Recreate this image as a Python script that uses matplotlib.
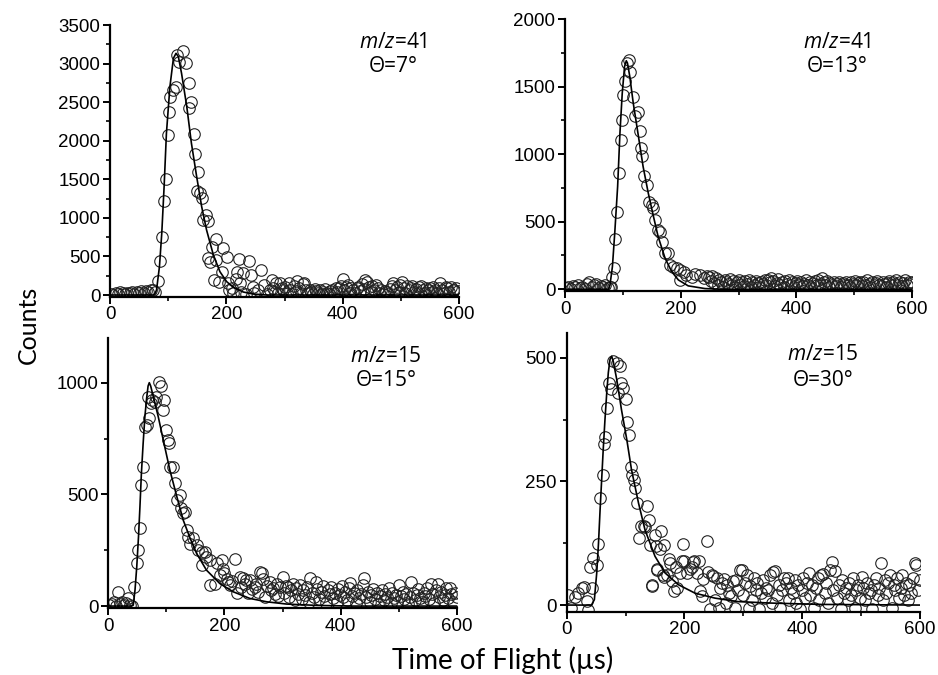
import matplotlib
matplotlib.use("Agg")
import matplotlib.pyplot as plt
from matplotlib.ticker import MultipleLocator

plt.rcParams['font.family'] = ['Liberation Sans', 'DejaVu Sans']
plt.rcParams['mathtext.fontset'] = 'custom'
plt.rcParams['mathtext.rm'] = 'Open Sans'
plt.rcParams['mathtext.it'] = 'Open Sans:italic'

# ---------------- Panel 1: m/z=41, Theta=7 deg ----------------
p1_t = [2, 6, 10, 14, 18, 22, 26, 30, 34, 38, 42, 46, 50, 54, 58, 62, 66, 70, 74, 78,
        83, 86, 89, 92, 96, 99, 101, 104, 109, 113, 115, 118, 125, 131, 135, 136, 140, 144,
        146, 149, 152, 155, 159, 160, 165, 168, 169, 172, 175, 178, 182, 183, 188, 192, 195,
        201, 203, 205, 209, 212, 216, 218, 221, 223, 226, 229, 233, 239, 242, 246, 248, 255,
        260, 264, 270, 275, 278,
        280, 283, 286, 289, 292, 295, 298, 301, 304, 307, 310, 313, 316, 319, 322, 325, 328,
        331, 334, 337, 340, 343, 346, 349, 352, 355, 358, 361, 364, 367, 370, 373, 376, 379,
        382, 385, 388, 391, 394, 397, 400, 403, 406, 409, 412, 415, 418, 421, 424, 427, 430,
        433, 436, 439, 442, 445, 448, 451, 454, 457, 460, 463, 466, 469, 472, 475, 478, 481,
        484, 487, 490, 493, 496, 499, 502, 505, 508, 511, 514, 517, 520, 523, 526, 529, 532,
        535, 538, 541, 544, 547, 550, 553, 556, 559, 562, 565, 568, 571, 574, 577, 580, 583,
        586, 589, 592, 595, 598]
p1_c = [10, 5, 20, 15, 40, 25, 10, 30, 20, 45, 15, 35, 25, 50, 30, 55, 40, 70, 60, 40,
        186, 445, 756, 1219, 1500, 2074, 2377, 2571, 2658, 2700, 3111, 3025, 3168, 3012, 2744,
        2420, 2506, 2087, 1828, 1353, 1599, 1318, 1253, 972, 1037, 964, 475, 432, 627, 194,
        454, 722, 173, 302, 605, 488, 151, 60, 86, 20, 203, 302, 462, 151, 40, 290, 10, 445,
        259, 99, 30, 60, 324, 130, 15, 70, 194,
        90, 40, 150, 20, 151, 86, 60, 110, 30, 160, 70, 15, 120, 55, 186, 90, 30,
        140, 160, 60, 20, 70, 40, 10, 80, 55, 25, 60, 15, 45, 75, 30, 10, 50,
        65, 20, 90, 40, 86, 120, 203, 60, 110, 130, 30, 90, 70, 20, 86, 110, 50,
        140, 80, 195, 173, 100, 40, 120, 60, 135, 90, 30, 70, 15, 50, 40, 10, 80,
        120, 151, 60, 110, 40, 130, 173, 90, 30, 112, 60, 90, 112, 40, 80, 20, 100,
        112, 60, 30, 90, 70, 86, 40, 110, 60, 20, 90, 151, 70, 30, 100, 86, 40,
        110, 60, 65, 90, 50]
p1_fit_t = [0, 60, 74, 77, 80, 85, 89, 93, 97, 103, 109, 113.5, 117.5, 123, 132, 140, 149,
            157.6, 166, 177.7, 189, 200.6, 212, 229, 246, 269, 600]
p1_fit_c = [0, 0, 0, 15, 65, 367, 800, 1400, 2096, 2700, 3068, 3133, 3090, 2874, 2442, 1966,
            1534, 1145, 843, 519, 302, 173, 99, 39, 13, 0, 0]

# ---------------- Panel 2: m/z=41, Theta=13 deg ----------------
p2_t = [2, 6, 10, 14, 18, 22, 26, 30, 34, 38, 42, 46, 50, 54, 58, 62, 66, 70, 74, 78,
        80, 81, 84, 86, 90, 93, 96, 99, 101, 104, 107, 111, 112, 117, 121, 126, 130, 131.5,
        134, 137, 141, 146, 150, 153, 156, 160, 164, 167, 173, 178, 182, 187, 193, 199, 199,
        205, 210, 219, 225, 233, 240, 246,
        249, 252, 255, 258, 261, 264, 267, 270, 273, 276, 279, 282, 285, 288, 291, 294, 297,
        300, 303, 306, 309, 312, 315, 318, 321, 324, 327, 330, 333, 336, 339, 342, 345, 348,
        351, 354, 357, 360, 363, 366, 369, 372, 375, 378, 381, 384, 387, 390, 393, 396, 399,
        402, 405, 408, 411, 414, 417, 420, 423, 426, 429, 432, 435, 438, 441, 444, 447, 450,
        453, 456, 459, 462, 465, 468, 471, 474, 477, 480, 483, 486, 489, 492, 495, 498, 501,
        504, 507, 510, 513, 516, 519, 522, 525, 528, 531, 534, 537, 540, 543, 546, 549, 552,
        555, 558, 561, 564, 567, 570, 573, 576, 579, 582, 585, 588, 591, 594, 597, 600]
p2_c = [10, 20, 5, 25, 15, 30, 10, 20, 5, 40, 57, 15, 30, 40, 10, 25, 20, 35, 10, 20,
        20, 89, 160, 370, 575, 860, 1106, 1254, 1440, 1543, 1674, 1699, 1605, 1422, 1279, 1309,
        1173, 1049, 988, 835, 773, 647, 625, 600, 514, 440, 427, 353, 267, 267, 180, 168, 156,
        143, 69, 131, 106, 94, 110, 106, 80, 95,
        90, 60, 100, 45, 80, 30, 70, 55, 20, 65, 57, 40, 75, 30, 60, 15, 50,
        70, 35, 55, 25, 60, 40, 70, 20, 50, 35, 60, 45, 15, 55, 40, 65, 30,
        70, 50, 82, 60, 25, 45, 75, 35, 55, 20, 60, 40, 70, 30, 50, 15, 45,
        60, 35, 55, 25, 40, 65, 30, 50, 20, 45, 60, 35, 70, 40, 82, 55, 30,
        60, 20, 45, 35, 55, 25, 40, 50, 15, 45, 30, 55, 35, 20, 50, 40, 60,
        30, 45, 55, 25, 50, 35, 65, 40, 20, 50, 30, 45, 60, 35, 25, 55, 40,
        15, 45, 60, 30, 50, 40, 70, 35, 55, 25, 45, 65, 30, 50, 40, 55]
p2_fit_t = [0, 75, 77.8, 82, 86, 91, 95, 99, 103, 106, 108, 112, 118, 127, 135, 144, 153,
            161, 173, 184.4, 196, 213, 242, 270, 600]
p2_fit_c = [0, 0, 32, 168, 415, 760, 1156, 1452, 1649, 1691, 1674, 1575, 1378, 1131, 909,
            711, 538, 390, 230, 131, 69, 25, 5, 0, 0]

# ---------------- Panel 3: m/z=15, Theta=15 deg ----------------
p3_t = [2, 6, 10, 14, 17, 20, 23, 27, 30, 34, 38, 41,
        45, 49, 52, 54.5, 57, 60, 63, 66, 69, 70.6, 73, 75, 80, 83, 88, 91, 94, 96, 99, 103,
        105, 106, 112, 115, 118, 123, 126, 129, 132, 136, 138, 141, 146, 152, 155, 161, 161,
        166, 169, 175, 175, 184, 186.6, 193, 195, 198, 200, 204, 207, 210, 213, 218, 221, 226,
        229, 232, 235, 238, 241, 244, 247, 252, 255, 258, 261, 264, 267, 270, 273, 278, 281,
        284, 287, 290, 293, 296, 300,
        303, 306, 309, 312, 315, 318, 321, 324, 327, 330, 333, 336, 339, 342, 345, 348, 351,
        354, 357, 360, 363, 366, 369, 372, 375, 378, 381, 384, 387, 390, 393, 396, 399, 402,
        405, 408, 411, 414, 417, 420, 423, 426, 429, 432, 435, 438, 441, 444, 447, 450, 453,
        456, 459, 462, 465, 468, 471, 474, 477, 480, 483, 486, 489, 492, 495, 498, 501, 504,
        507, 510, 513, 516, 519, 522, 525, 528, 531, 534, 537, 540, 543, 546, 549, 552, 555,
        558, 561, 564, 567, 570, 573, 576, 579, 582, 585, 588, 591, 594, 597, 600]
p3_c = [5, 9, 20, 0, 64, 10, 19, 5, 15, 34, 5, 0,
        87, 191, 250, 348, 542, 624, 803, 810, 937, 840, 907, 922, 915, 937, 1004, 985, 878,
        922, 788, 743, 728, 624, 624, 549, 475, 497, 437, 415, 420, 340, 310, 280, 303, 273,
        250, 243, 183, 243, 221, 206, 94, 101, 191, 139, 206, 168, 150, 120, 109, 95, 110, 212,
        57, 130, 85, 124, 100, 116, 60, 115, 75, 87, 100, 65, 154, 146, 120, 40, 90, 109, 70,
        79, 55, 100, 45, 85, 131,
        60, 90, 87, 40, 70, 100, 25, 80, 55, 95, 30, 70, 50, 85, 20, 124, 60,
        40, 109, 75, 30, 65, 90, 45, 15, 70, 55, 85, 35, 60, 20, 75, 50, 90,
        40, 65, 25, 80, 104, 45, 60, 15, 70, 35, 55, 94, 124, 40, 65, 20, 50,
        75, 30, 60, 10, 45, 70, 25, 55, 40, 80, 15, 60, 35, 50, 20, 94, 45,
        65, 30, 55, 10, 40, 109, 60, 25, 50, 75, 35, 20, 60, 45, 80, 30, 101,
        55, 15, 70, 101, 40, 65, 25, 50, 80, 35, 79, 55, 20, 60, 40]
p3_fit_t = [0, 40, 43, 46, 49, 52, 54.5, 57, 60, 63, 66, 68.5, 70.6, 73, 77.5, 86, 94.7, 106,
            118, 129, 141, 152, 169, 192, 215, 244, 273, 307, 359, 420, 600]
p3_fit_c = [0, 0, 4, 72, 176, 310, 445, 594, 728, 848, 930, 985, 1000, 985, 937, 848, 743,
            609, 490, 385, 303, 236, 161, 101, 64, 34, 19, 9, 3, 0, 0]

# ---------------- Panel 4: m/z=15, Theta=30 deg ----------------
p4_t = [3, 8, 14, 20, 25.5, 30, 34, 37, 39.6, 42.4, 45, 51, 54, 56.6, 61, 64, 65, 69, 72, 75,
        79, 85, 87.7, 90.6, 93, 96, 100, 102, 106, 109, 111.5, 115, 116, 120, 123, 127, 132,
        133, 136, 139, 141.5, 144.5, 145, 150, 151.7, 153, 154, 158, 160, 164, 165, 166, 170,
        173, 175, 178, 183, 185, 187, 193, 195, 198, 200, 204, 209, 212, 215, 217, 221, 225,
        226, 229, 232, 238,
        240, 243, 246, 249, 252, 255, 258, 261, 264, 267, 270, 273, 276, 279, 282, 285, 288,
        291, 294, 297, 300, 303, 306, 309, 312, 315, 318, 321, 324, 327, 330, 333, 336, 339,
        342, 345, 348, 351, 354, 357, 360, 363, 366, 369, 372, 375, 378, 381, 384, 387, 390,
        393, 396, 399, 402, 405, 408, 411, 414, 417, 420, 423, 426, 429, 432, 435, 438, 441,
        444, 447, 450, 453, 456, 459, 462, 465, 468, 471, 474, 477, 480, 483, 486, 489, 492,
        495, 498, 501, 504, 507, 510, 513, 516, 519, 522, 525, 528, 531, 534, 537, 540, 543,
        546, 549, 552, 555, 558, 561, 564, 567, 570, 573, 576, 579, 582, 585, 588, 591, 594,
        597, 600]
p4_c = [21, -5, 16, 24, 34, 36, 9, -9, 77, 34, 95, 82, 123, 217, 262, 325, 340, 398, 449,
        437, 493, 490, 429, 483, 449, 439, 416, 371, 344, 279, 262, 252, 237, 206, 136, 159,
        159, 158, 200, 171, 122, 40, 39, 142, 120, 70, 73, 113, 149, 61, 57, 121, 60, 94, 85,
        48, 28, 76, 34, 65, 90, 123, 90, 65, 73, 76, 87, 90, 65, 90, 28, 18, 52, 130,
        66, -8, 60, 58, 10, 55, -5, 34, 45, 53, 5, 40, 25, 18, 48, -6, 51,
        30, 71, 70, 20, 45, 60, -5, 38, 10, 55, 30, 45, -8, 25, 50, 15, 35,
        31, 60, 5, 67, 68, 20, 40, -5, 30, 55, 45, 55, 10, 35, 25, 50, 5,
        40, -7, 30, 55, 15, 45, 65, 20, 40, -6, 35, 55, 10, 60, 63, 25, 45,
        5, 70, 87, 30, 68, 15, 40, -8, 50, 25, 35, 10, 45, 20, 55, -5, 30,
        40, 15, 57, 35, 10, 45, 25, 31, -7, 40, 55, 20, 35, 85, 10, 50, 25,
        45, 60, -6, 40, 30, 55, 15, 35, 60, 20, 45, 10, 40, 25, 55, 85, 80,
        30, 51]
p4_fit_t = [0, 42, 47, 51, 54, 56.6, 59.4, 62, 65, 68, 70.7, 73.6, 76.4, 79, 85, 93, 102,
            110, 122, 133, 150, 167, 190, 218, 252, 291, 348, 433, 600]
p4_fit_c = [0, 0, 11, 65, 125, 190, 254, 314, 375, 429, 470, 497, 503, 493, 456, 395, 335,
            274, 206, 152, 98.5, 65, 41, 24, 14, 7, 4, 1.3, 0]

labels = [("$\\it{m/z}$=41", "\u0398=7\u00b0"), ("$\\it{m/z}$=41", "\u0398=13\u00b0"),
          ("$\\it{m/z}$=15", "\u0398=15\u00b0"), ("$\\it{m/z}$=15", "\u0398=30\u00b0")]

W, H = 938, 675
fig = plt.figure(figsize=(W / 100, H / 100), dpi=100)

def px_axes(l, r, t, b):
    return fig.add_axes([l / W, 1 - b / H, (r - l) / W, (b - t) / H])

panels = [
    dict(box=(110, 459, 25, 296.7), ylim=(-22, 3500), major=500, minor=250,
         t=p1_t, c=p1_c, ft=p1_fit_t, fc=p1_fit_c, txt=(393, 42, 67)),
    dict(box=(565, 912, 19, 291), ylim=(-13, 2000), major=500, minor=250,
         t=p2_t, c=p2_c, ft=p2_fit_t, fc=p2_fit_c, txt=(837, 42, 67)),
    dict(box=(108.3, 456.7, 338, 608.3), ylim=(-10, 1200), major=500, minor=250,
         t=p3_t, c=p3_c, ft=p3_fit_t, fc=p3_fit_c, txt=(386, 356, 381)),
    dict(box=(566.7, 920, 333, 611.5), ylim=(-13, 550), major=250, minor=125,
         t=p4_t, c=p4_c, ft=p4_fit_t, fc=p4_fit_c, txt=(823, 355, 380)),
]

for p, lab in zip(panels, labels):
    ax = px_axes(*p['box'])
    ax.plot(p['t'], p['c'], linestyle='none', marker='o', ms=8.3, mfc='none',
            mec='#222222', mew=0.8)
    ax.plot(p['ft'], p['fc'], color='black', lw=1.2)
    ax.set_xlim(0, 600)
    ax.set_ylim(*p['ylim'])
    ax.xaxis.set_major_locator(MultipleLocator(200))
    ax.xaxis.set_minor_locator(MultipleLocator(100))
    ax.yaxis.set_major_locator(MultipleLocator(p['major']))
    ax.yaxis.set_minor_locator(MultipleLocator(p['minor']))
    for s in ('top', 'right'):
        ax.spines[s].set_visible(False)
    for s in ('left', 'bottom'):
        ax.spines[s].set_linewidth(1.6)
    ax.tick_params(which='major', direction='out', length=5, width=1.4, labelsize=13.5, pad=2)
    ax.tick_params(which='minor', direction='out', length=3, width=1.2)
    x, y1, y2 = p['txt']
    fig.text(x / W, 1 - y1 / H, lab[0], ha='center', va='center', fontsize=15,
             family='Open Sans')
    fig.text(x / W, 1 - y2 / H, lab[1], ha='center', va='center', fontsize=15,
             family='Open Sans')

fig.text(28 / W, 1 - 325 / H, "Counts", rotation=90, ha='center', va='center',
         fontsize=18, family='Lato')
fig.text(503 / W, 1 - 660 / H, "Time of Flight (\u00b5s)", ha='center', va='center',
         fontsize=20, family='Lato')

fig.savefig("out.png", dpi=100)
